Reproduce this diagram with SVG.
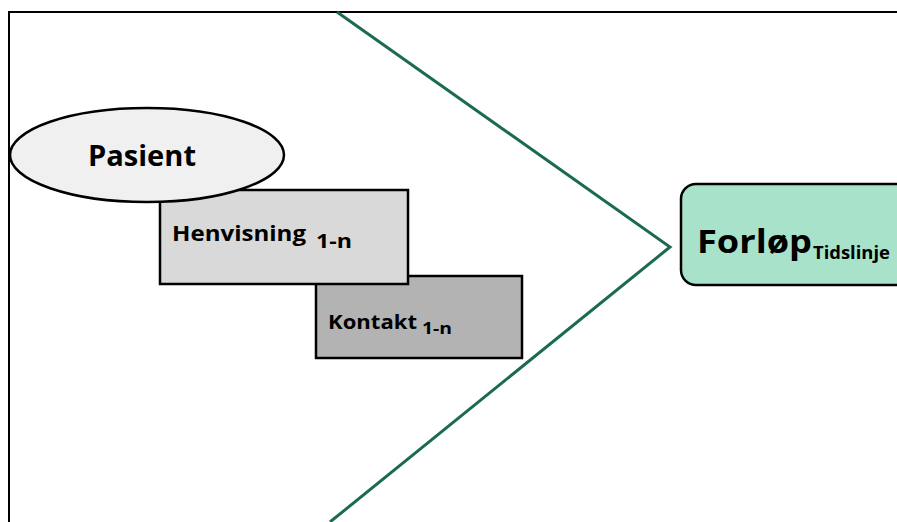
<svg xmlns="http://www.w3.org/2000/svg" width="897" height="522" viewBox="0 0 897 522">
<style>
.t{font-family:"Open Sans","Noto Sans","DejaVu Sans",sans-serif;font-weight:bold;fill:#000}
.box{stroke:#000;stroke-width:2.5}
.conn{fill:none;stroke:#1b6b50;stroke-width:3}
</style>
<rect x="0" y="0" width="897" height="522" fill="#fff"/>
<path d="M9,522 V12 H897" fill="none" stroke="#000" stroke-width="2"/>
<g id="connectors">
<polyline class="conn" points="337,12 670,247 330,522"/>
</g>
<g id="kontakt">
<rect class="box" x="316" y="276" width="206" height="82" fill="#b3b3b3"/>
<text class="t" x="328" y="329" font-size="19" textLength="89" lengthAdjust="spacingAndGlyphs">Kontakt</text>
<text class="t" x="422" y="334" font-size="16" textLength="30" lengthAdjust="spacingAndGlyphs">1-n</text>
</g>
<g id="henvisning">
<rect class="box" x="160" y="190" width="248" height="94" fill="#d9d9d9"/>
<text class="t" x="172" y="241" font-size="22" textLength="134" lengthAdjust="spacingAndGlyphs">Henvisning</text>
<text class="t" x="316" y="248" font-size="19" textLength="36" lengthAdjust="spacingAndGlyphs">1-n</text>
</g>
<g id="pasient">
<ellipse class="box" cx="147" cy="155" rx="137" ry="47" fill="#f0f0f0"/>
<text class="t" x="88" y="166" font-size="28" textLength="108" lengthAdjust="spacingAndGlyphs">Pasient</text>
</g>
<g id="forlop">
<rect class="box" x="681" y="184" width="240" height="101" rx="15" fill="#a9e2cb"/>
<text class="t" x="697" y="253" font-size="33" textLength="115" lengthAdjust="spacingAndGlyphs">Forløp</text>
<text class="t" x="813" y="259" font-size="17" textLength="77" lengthAdjust="spacingAndGlyphs">Tidslinje</text>
</g>
</svg>
